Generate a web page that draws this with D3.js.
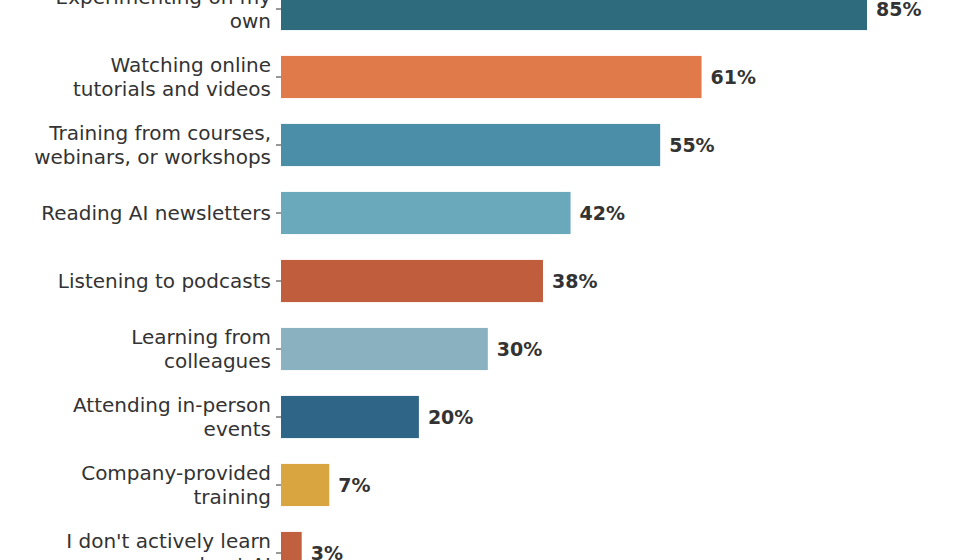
<!DOCTYPE html>
<html><head><meta charset="utf-8">
<script src="https://cdn.jsdelivr.net/npm/d3@7"></script>
<style>body{margin:0;background:#fff}svg{display:block}</style>
</head><body>
<script>
const categories = [
  ["Experimenting on my", "own"],
  ["Watching online", "tutorials and videos"],
  ["Training from courses,", "webinars, or workshops"],
  ["Reading AI newsletters"],
  ["Listening to podcasts"],
  ["Learning from", "colleagues"],
  ["Attending in-person", "events"],
  ["Company-provided", "training"],
  ["I don't actively learn", "about AI"]
];
const values = [85, 61, 55, 42, 38, 30, 20, 7, 3];
const colors = ["#2e6b7d", "#e07a4b", "#4a8ea8", "#6aa9bb", "#c05d3d", "#8ab1c0", "#2f6587", "#d9a540", "#c0603f"];

const width = 960, height = 560;
const svg = d3.select("body").append("svg").attr("width", width).attr("height", height);

const x = d3.scaleLinear().domain([0, 85]).range([281, 867]);
const y = d3.scaleBand().domain(d3.range(values.length)).range([-25, 587]).paddingInner(0.38).paddingOuter(0.19);

const g = svg.selectAll("g.row").data(values).join("g").attr("class", "row");

g.append("rect")
  .attr("x", x(0)).attr("y", (d, i) => y(i))
  .attr("width", d => x(d) - x(0)).attr("height", y.bandwidth())
  .attr("fill", (d, i) => colors[i]);

g.append("line")
  .attr("x1", x(0) - 5).attr("x2", x(0))
  .attr("y1", (d, i) => y(i) + y.bandwidth() / 2).attr("y2", (d, i) => y(i) + y.bandwidth() / 2)
  .attr("stroke", "#333").attr("stroke-width", 1);

g.append("text")
  .attr("x", d => x(d) + 9).attr("y", (d, i) => y(i) + y.bandwidth() / 2)
  .attr("dy", "0.35em")
  .attr("font-family", "DejaVu Sans").attr("font-size", 19).attr("font-weight", "bold")
  .attr("fill", "#333").text(d => d + "%");

g.append("text")
  .attr("x", x(0) - 10)
  .attr("y", (d, i) => y(i) + y.bandwidth() / 2)
  .attr("text-anchor", "end")
  .attr("font-family", "DejaVu Sans").attr("font-size", 20).attr("fill", "#333")
  .each(function (d, i) {
    const lines = categories[i];
    const t = d3.select(this);
    lines.forEach((s, k) => {
      t.append("tspan").attr("x", x(0) - 10)
        .attr("dy", k === 0 ? (0.35 - (lines.length - 1) * 0.6) + "em" : "1.2em")
        .text(s);
    });
  });
</script>
</body></html>
